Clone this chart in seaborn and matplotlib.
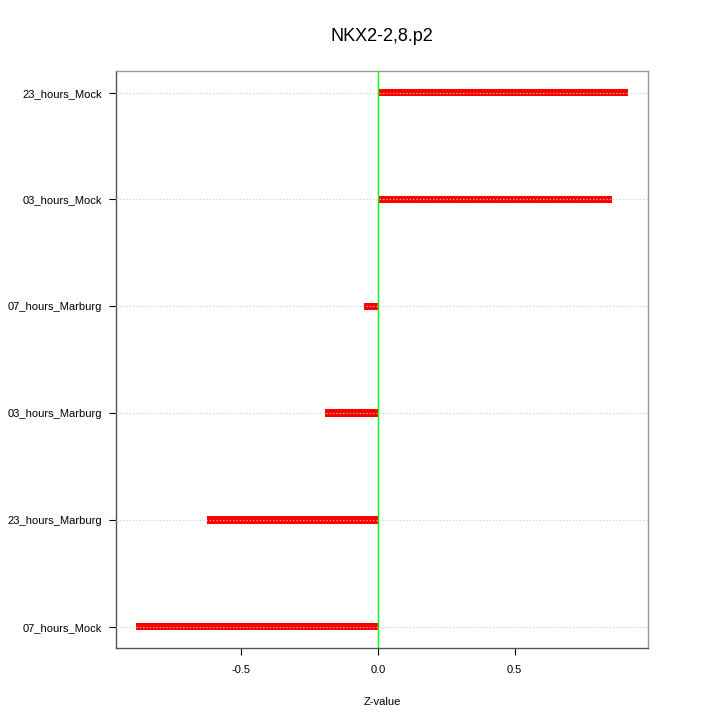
import matplotlib
matplotlib.use("Agg")
import matplotlib.pyplot as plt
import seaborn as sns
import pandas as pd

# values (top to bottom)
conditions = ["23_hours_Mock", "03_hours_Mock", "07_hours_Marburg",
              "03_hours_Marburg", "23_hours_Marburg", "07_hours_Mock"]
zvalues = [0.916, 0.857, -0.051, -0.194, -0.626, -0.886]
xticks = [-0.5, 0.0, 0.5]

df = pd.DataFrame({"condition": conditions, "z": zvalues})

sns.set_style("white")
plt.rcParams['font.family'] = ['Liberation Sans', 'DejaVu Sans']
plt.rcParams['text.color'] = 'black'
plt.rcParams['xtick.color'] = 'black'
plt.rcParams['ytick.color'] = 'black'
plt.rcParams['axes.labelcolor'] = 'black'

fig = plt.figure(figsize=(7.2, 7.2), dpi=100)
ax = fig.add_axes([0.161, 0.1, 0.739, 0.801])

sns.barplot(data=df, x="z", y="condition", order=conditions, orient="h",
            color="#ff0000", saturation=1, width=0.07, linewidth=0, ax=ax)

# dotted grid lines drawn over the bars
for i in range(len(conditions)):
    ax.axhline(i, color="#cccccc", linestyle=(0, (1, 2)), linewidth=0.8, zorder=5)
ax.axvline(0, color="#00ff00", linewidth=1, zorder=6)

ax.set_xlim(-0.958, 0.988)
ax.set_ylim(len(conditions) - 1 + 0.2, -0.2)
ax.set_xticks(xticks)
ax.set_xticklabels(["-0.5", "0.0", "0.5"])
ax.tick_params(axis="both", direction="out", length=5, width=0.8,
               labelsize=8, pad=7, left=True, bottom=True)
ax.tick_params(axis="y", pad=5)
ax.set_xlabel("Z-value", fontsize=8, labelpad=16)
ax.set_ylabel("")
ax.set_title("NKX2-2,8.p2", fontsize=13, pad=22)

for side in ["top", "right"]:
    ax.spines[side].set_color("#999999")
for side in ["left", "bottom"]:
    ax.spines[side].set_color("#555555")
for s in ax.spines.values():
    s.set_visible(True)
    s.set_linewidth(1)

fig.savefig("out.png", dpi=100)
